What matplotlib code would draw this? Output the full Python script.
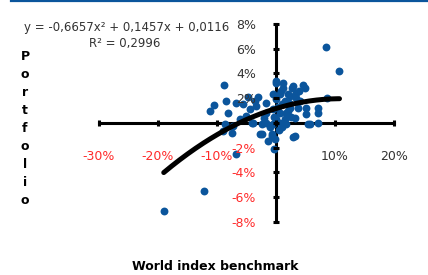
import matplotlib
matplotlib.use('Agg')
import matplotlib.pyplot as plt
from matplotlib.lines import Line2D
import numpy as np

# данные (в процентах)
bench = [-19.0, -12.2, -6.8, -0.3, 8.5, 10.8,
         -8.8, -10.5, -11.2, -8.5, -6.8, -5.5, -4.7, -3.0, -3.3, -8.1, -8.6, -8.9,
         -7.2, -6.1, -3.8, -2.4, -1.6, -0.5, -1.6, 0.1, -2.4, -1.0, -0.7, -7.5,
         -4.4, -5.0, -0.5, -4.1, -1.6, -1.3, -2.7,
         0.0, 1.2, 2.7, 4.6, 4.9, 2.1, 3.5, 0.7, 0.1, 1.5, 4.1, 8.6, 5.2, 7.2,
         7.2, 5.2, 2.4, 0.7, 1.5, 7.2, 5.8, 3.2, -0.5, 0.1, -0.7, 0.7, 2.9, 5.5,
         2.4, 3.5, 1.8, 3.2, -0.2, 1.8, 3.0, 4.0, 1.0, 2.0, 2.5, 3.8, 1.2, 0.5,
         1.0, -0.3, 0.3, -2.0, -3.5, 0.9, 2.2]
port = [-7.1, -5.5, -2.5, -2.1, 6.1, 4.2,
        3.05, 1.44, 0.95, 1.76, 1.63, 1.5, 2.1, 2.1, 1.36, 0.82, -0.1, -0.66,
        -0.26, 0.28, 0.0, -0.1, 0.82, 1.1, 1.6, 3.25, -0.9, -0.36, -1.07, -0.8,
        1.1, 0.55, 2.3, 0.0, 0.0, -1.47, -0.93,
        3.4, 3.25, 2.85, 3.1, 2.85, 2.3, 2.44, 2.3, 1.9, 1.76, 1.76, 2.04, 1.23, 1.23,
        0.82, 0.69, 1.23, 0.82, 0.28, 0.0, -0.1, -1.07, -0.1, 0.28, -0.93, 0.0, -1.1, -0.1,
        2.2, 2.0, 0.8, 0.4, -1.3, -0.1, 3.0, 2.6, 1.5, 1.0, 0.5, 1.2, 2.8, -0.6,
        -0.3, 0.5, 1.3, 0.4, 1.8, 2.6, 1.6]

# коэффициенты линии тренда (из подписи)
trend_coef = [-0.6657, 0.1457, 0.0116]
eq_text = 'y = -0,6657x² + 0,1457x + 0,0116'
r2_text = 'R² = 0,2996'

x_ticks = [-0.30, -0.20, -0.10, 0.0, 0.10, 0.20]
x_tick_labels = ['-30%', '-20%', '-10%', '', '10%', '20%']
y_ticks = [-0.08, -0.06, -0.04, -0.02, 0.0, 0.02, 0.04, 0.06, 0.08]
y_tick_labels = ['-8%', '-6%', '-4%', '-2%', '', '2%', '4%', '6%', '8%']

blue = '#0b559c'
red = '#ff2a2a'
grey = '#333333'

x = np.array(bench) / 100.0
y = np.array(port) / 100.0

fig = plt.figure(figsize=(4.28, 2.75), dpi=100)
ax = fig.add_axes([0.231, 0.193, 0.689, 0.72])

ax.scatter(x, y, s=32, color=blue, zorder=1, linewidths=0)

xt = np.linspace(x.min(), x.max(), 200)
ax.plot(xt, np.polyval(trend_coef, xt), color='black', lw=3.6,
        solid_capstyle='round', zorder=3)

ax.set_xlim(-0.30, 0.20)
ax.set_ylim(-0.08, 0.08)

# оси через ноль
ax.spines['left'].set_position(('data', 0))
ax.spines['bottom'].set_position(('data', 0))
ax.spines['top'].set_visible(False)
ax.spines['right'].set_visible(False)
for s in ['left', 'bottom']:
    ax.spines[s].set_linewidth(2.2)
    ax.spines[s].set_zorder(0.5)

ax.set_xticks(x_ticks)
ax.set_xticklabels(x_tick_labels)
ax.set_yticks(y_ticks)
ax.set_yticklabels(y_tick_labels)
ax.tick_params(axis='x', direction='inout', length=4.5, width=2.2, color='black',
               labelsize=9, pad=17)
ax.tick_params(axis='y', direction='inout', length=4.5, width=2.2, color='black',
               labelsize=9, pad=12)
for lbl in ax.get_xticklabels() + ax.get_yticklabels():
    lbl.set_color(red if lbl.get_text().startswith('-') else grey)

# подписи
fig.text(127 / 428, 1 - 28 / 275, eq_text, ha='center', va='center', fontsize=8.5, color=grey)
fig.text(125 / 428, 1 - 43 / 275, r2_text, ha='center', va='center', fontsize=8.5, color=grey)
for i, ch in enumerate('Portfolio'):
    fig.text(25 / 428, 1 - (57 + 18 * i) / 275, ch, ha='center', va='center',
             fontsize=9, fontweight='bold')
fig.text(215 / 428, 1 - 267 / 275, 'World index benchmark', ha='center', va='center',
         fontsize=9, fontweight='bold')

# синяя линия сверху
fig.add_artist(Line2D([11 / 428, 1], [1 - 0.5 / 275] * 2, color=blue, lw=1.6))

fig.savefig('out.png', dpi=100)
